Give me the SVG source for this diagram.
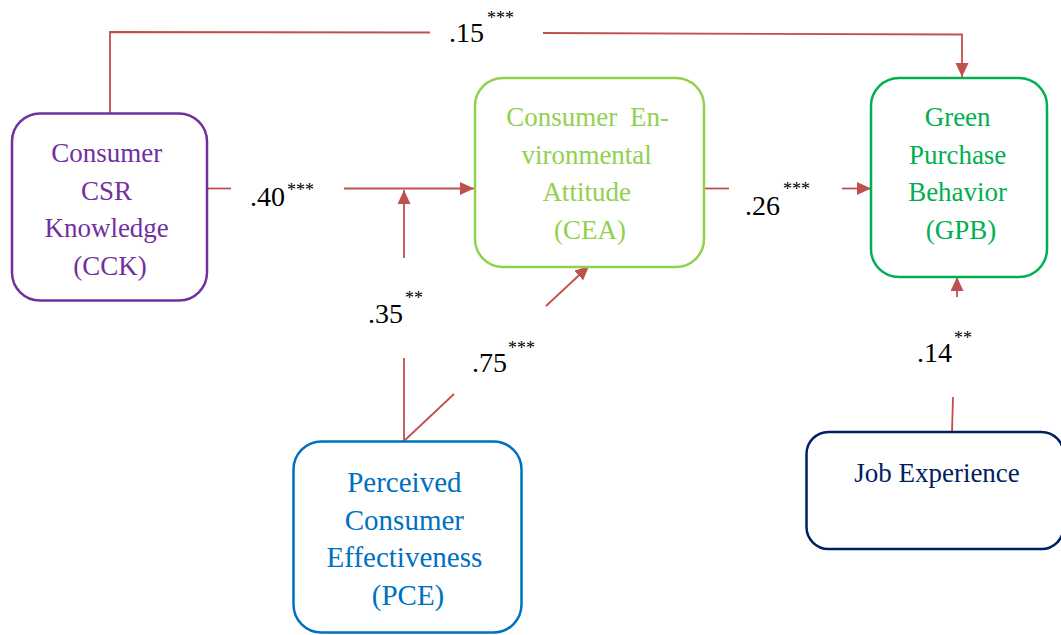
<svg xmlns="http://www.w3.org/2000/svg" width="1061" height="635" viewBox="0 0 1061 635">
  <style>
    .box { fill: #FFFFFF; stroke-width: 2.5; }
    text { font-family: 'Liberation Serif', 'DejaVu Serif', serif; }
    .lbl { font-size: 27px; text-anchor: middle; }
    .coef { font-size: 28px; fill: #000000; }
    .sig { font-size: 18px; fill: #000000; }
    .path { fill: none; stroke: #C0504D; stroke-width: 1.8; }
  </style>
  <defs>
    <marker id="arrow" markerUnits="userSpaceOnUse" markerWidth="15" markerHeight="14" refX="14" refY="6.5" orient="auto">
      <path d="M0,0 L14,6.5 L0,13 Z" fill="#C0504D"/>
    </marker>
  </defs>
  <rect width="1061" height="635" fill="#FFFFFF"/>

  <!-- paths between constructs -->
  <g id="connectors">
    <!-- CCK -> GPB (direct) -->
    <polyline class="path" points="110,113 110,32 430,32.5"/>
    <polyline class="path" points="543,33 962,34.5 962,77" marker-end="url(#arrow)"/>
    <!-- CCK -> CEA -->
    <line class="path" x1="207" y1="188.5" x2="231" y2="188.5"/>
    <line class="path" x1="344" y1="188.5" x2="474" y2="188.5" marker-end="url(#arrow)"/>
    <!-- PCE moderating CCK -> CEA -->
    <line class="path" x1="404" y1="258" x2="404" y2="190" marker-end="url(#arrow)"/>
    <line class="path" x1="404" y1="358" x2="404" y2="441"/>
    <!-- PCE -> CEA -->
    <line class="path" x1="404" y1="441" x2="454" y2="394"/>
    <line class="path" x1="546" y1="306" x2="589" y2="266" marker-end="url(#arrow)"/>
    <!-- CEA -> GPB -->
    <line class="path" x1="704" y1="188.5" x2="729" y2="188.5"/>
    <line class="path" x1="842" y1="188.5" x2="871" y2="188.5" marker-end="url(#arrow)"/>
    <!-- Job Experience -> GPB -->
    <line class="path" x1="952" y1="432" x2="953" y2="397"/>
    <line class="path" x1="957" y1="297" x2="957" y2="277" marker-end="url(#arrow)"/>

    <!-- coefficients -->
    <text class="coef" x="449" y="42">.15</text>
    <text class="sig" x="487" y="24">***</text>
    <text class="coef" x="250" y="206">.40</text>
    <text class="sig" x="287" y="196">***</text>
    <text class="coef" x="745" y="215">.26</text>
    <text class="sig" x="783" y="195">***</text>
    <text class="coef" x="368" y="323">.35</text>
    <text class="sig" x="405" y="304">**</text>
    <text class="coef" x="472" y="372">.75</text>
    <text class="sig" x="508" y="354">***</text>
    <text class="coef" x="917" y="362">.14</text>
    <text class="sig" x="954" y="344">**</text>
  </g>

  <g id="node-cck">
    <rect class="box" x="12" y="113.5" width="195" height="187" rx="28" stroke="#7030A0"/>
    <text class="lbl" fill="#7030A0">
      <tspan x="110" y="162">Consumer</tspan>
      <tspan x="110" y="199.5">CSR</tspan>
      <tspan x="110" y="237">Knowledge</tspan>
      <tspan x="110" y="274.5">(CCK)</tspan>
    </text>
  </g>

  <g id="node-cea">
    <rect class="box" x="475" y="78" width="229" height="189" rx="28" stroke="#92D050"/>
    <text class="lbl" fill="#92D050">
      <tspan x="591" y="126" word-spacing="6">Consumer En-</tspan>
      <tspan x="590" y="163.5">vironmental</tspan>
      <tspan x="590" y="201">Attitude</tspan>
      <tspan x="590" y="238.5">(CEA)</tspan>
    </text>
  </g>

  <g id="node-gpb">
    <rect class="box" x="871" y="78" width="176" height="199" rx="28" stroke="#00B050"/>
    <text class="lbl" fill="#00B050">
      <tspan x="961" y="126">Green</tspan>
      <tspan x="961" y="163.5">Purchase</tspan>
      <tspan x="961" y="201">Behavior</tspan>
      <tspan x="961" y="238.5">(GPB)</tspan>
    </text>
  </g>

  <g id="node-pce">
    <rect class="box" x="293.5" y="441.5" width="228" height="191" rx="28" stroke="#0070C0"/>
    <text class="lbl" fill="#0070C0" style="font-size:29px">
      <tspan x="408" y="492">Perceived</tspan>
      <tspan x="408" y="529.5">Consumer</tspan>
      <tspan x="408" y="567">Effectiveness</tspan>
      <tspan x="408" y="604.5">(PCE)</tspan>
    </text>
  </g>

  <g id="node-job">
    <rect class="box" x="806.5" y="432" width="257" height="117" rx="22" stroke="#002060"/>
    <text class="lbl" fill="#002060" x="937" y="482">Job Experience</text>
  </g>
</svg>
